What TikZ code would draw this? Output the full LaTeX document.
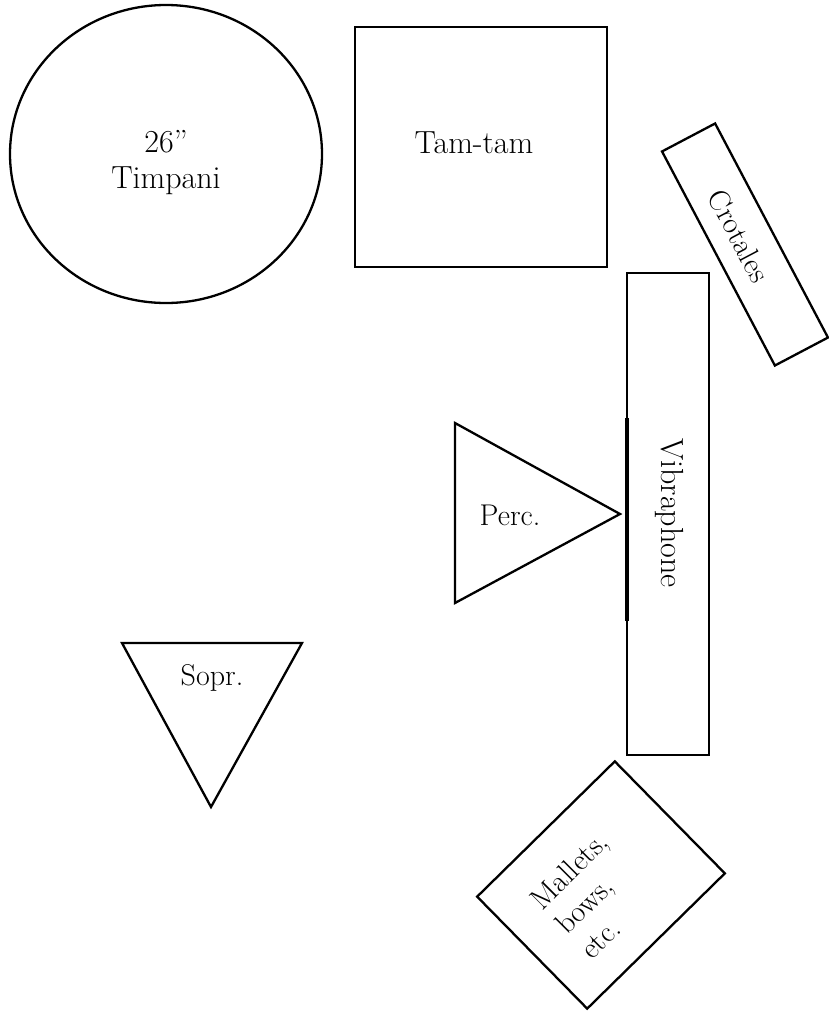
\documentclass[tikz,border=0pt]{standalone}
\usetikzlibrary{shapes.geometric}
\begin{document}
\begin{tikzpicture}[x=1pt,y=-1pt,
  outline/.style={draw=black,line width=2.3pt,line join=miter},
  lbl/.style={font=\fontsize{30}{35}\selectfont,inner sep=0pt,align=center},
  biglbl/.style={lbl,font=\fontsize{32}{36}\selectfont},
  box/.style={outline,rectangle,inner sep=0pt,fill=white}]
\useasboundingbox[fill=white] (0,0) rectangle (828,1015);
% Timpani
\node[outline,ellipse,minimum width=312pt,minimum height=298pt,inner sep=0pt] (timp) at (166,154) {};
\node[biglbl] (timpt) at (166,163) {26”\\Timpani};
% Tam-tam
\node[box,minimum width=252pt,minimum height=240pt] (tam) at (481,147) {};
\node[biglbl] (tamt) at (474,143) {Tam-tam};
% Crotales
\node[box,minimum width=242pt,minimum height=60pt,rotate=-62.2] (crot) at (745,244.5) {};
\node[lbl,rotate=-62.2] (crott) at (739,236) {Crotales};
% Vibraphone
\node[box,minimum width=82pt,minimum height=482pt] (vib) at (668,514) {};
\node[biglbl,rotate=-90] (vibt) at (669,513) {Vibraphone};
\coordinate (vibA) at (627,418);
\coordinate (vibB) at (627,621);
\draw[line width=4.5pt] (vibA) -- (vibB);
% Perc.
\coordinate (pA) at (455,423);
\coordinate (pB) at (455,603);
\coordinate (pC) at (620,514);
\draw[outline] (pA) -- (pC) -- (pB) -- cycle;
\node[lbl] (perct) at (510,515) {Perc.};
% Sopr.
\coordinate (sA) at (122,643);
\coordinate (sB) at (302,643);
\coordinate (sC) at (211,807);
\draw[outline] (sA) -- (sB) -- (sC) -- cycle;
\node[lbl] (soprt) at (212,678) {Sopr.};
% Mallets
\node[box,minimum width=193pt,minimum height=157pt,rotate=44.5] (mall) at (601,885) {};
\node[lbl,align=left,rotate=45] (mallt) at (594,895) {Mallets,\\bows,\\etc.};
\end{tikzpicture}
\end{document}
